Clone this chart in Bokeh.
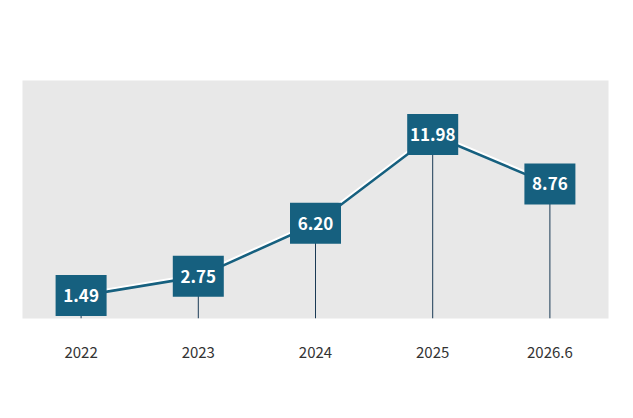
from bokeh.plotting import figure
from bokeh.models import ColumnDataSource, Label, BoxAnnotation
from bokeh.core.properties import value
from bokeh.embed import file_html
from bokeh.resources import INLINE

years = ["2022", "2023", "2024", "2025", "2026.6"]
vals = [1.49, 2.75, 6.20, 11.98, 8.76]
labels = ["1.49", "2.75", "6.20", "11.98", "8.76"]
title = "순차입금/EBITDA(배)"
note = "*자료: 롯데건설 사업보고서 및 반기보고서 분석"

teal = "#16607f"
W, H = 633, 418
p = figure(x_range=years, y_range=(0, 15.5), width=W, height=H,
           output_backend="svg", toolbar_location=None,
           min_border_left=22, min_border_right=25, min_border_top=80, min_border_bottom=100)
p.background_fill_color = "#e8e8e8"
p.border_fill_color = "white"
p.outline_line_color = None
p.grid.visible = False
p.yaxis.visible = False
xa = p.xaxis[0]
xa.axis_line_color = None
xa.major_tick_line_color = None
xa.minor_tick_line_color = None
xa.major_label_text_font = "Noto Sans CJK KR"
xa.major_label_text_font_size = "15px"
xa.major_label_text_color = "#333333"
xa.major_label_standoff = 22

src = ColumnDataSource(dict(x=years, y=vals, y0=[0]*5, yw=[v + 0.13 for v in vals], t=labels))
p.segment(x0="x", y0="y0", x1="x", y1="y", source=src, line_color="#1a3a55", line_width=1)
p.line("x", "y", source=src, line_color=teal, line_width=3.5)
p.line("x", "yw", source=src, line_color="white", line_width=2)
p.rect("x", "y", width=51, height=41, width_units="screen", height_units="screen",
       source=src, fill_color=teal, line_color=None)
p.text("x", "y", text="t", source=src, text_color="white", text_font=value("Noto Sans CJK KR"),
       text_font_style="bold", text_font_size="17px", text_align="center", text_baseline="middle")

p.add_layout(BoxAnnotation(left=-12, right=606, bottom=-62, top=310, left_units="screen",
                           right_units="screen", bottom_units="screen", top_units="screen",
                           fill_color=None, line_color="#d0d0d0", line_width=1, level="overlay"))
p.add_layout(Label(x=294, y=273, x_units="screen", y_units="screen", text=title,
                   text_font="Noto Sans CJK KR", text_font_style="bold", text_font_size="19px",
                   text_align="center", text_baseline="middle", text_color="#111111"))
p.add_layout(Label(x=-10, y=-85, x_units="screen", y_units="screen", text=note,
                   text_font="Noto Sans CJK KR", text_font_size="15px",
                   text_align="left", text_baseline="middle", text_color="#222222"))

open("out.html", "w").write(file_html(p, INLINE))
